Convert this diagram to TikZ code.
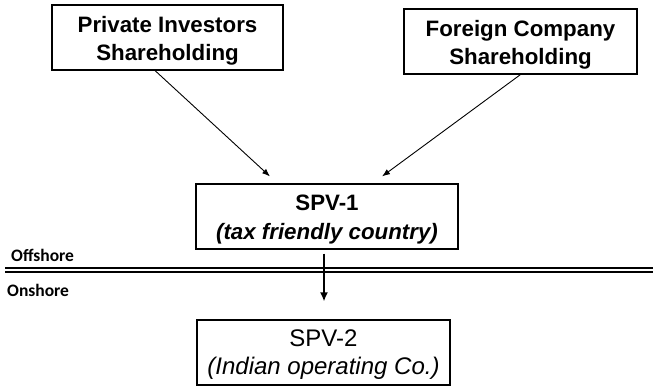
\documentclass[tikz,border=0pt]{standalone}
\usepackage{fontspec}
\setmainfont{Liberation Sans}
\newfontfamily\calib{Carlito}
\usetikzlibrary{arrows.meta}
\begin{document}
\begin{tikzpicture}[x=1pt,y=-1pt,
  frame/.style={draw=black,line width=1.1pt,rectangle,inner sep=0pt,minimum height=65pt},
  btxt/.style={inner sep=0pt,align=center,font=\fontsize{22.3}{28.5}\selectfont\bfseries},
  rtxt/.style={inner sep=0pt,align=center,font=\fontsize{24}{28.5}\selectfont},
  arr/.style={line width=0.9pt,-{Latex[length=8pt,width=6pt]}},
  thickarr/.style={line width=2pt,-{Latex[length=9pt,width=8pt]}},
  side/.style={anchor=west,inner sep=0pt,font=\calib\fontsize{17.5}{20}\selectfont\bfseries}]
\useasboundingbox (0,0) rectangle (653,386);
\node[frame,minimum width=231pt] (A) at (167.5,37.5) {};
\node[btxt] (At) at ([yshift=-3.5pt]A.center) {Private Investors\\Shareholding};
\node[frame,minimum width=233pt] (B) at (520.5,41.5) {};
\node[btxt] (Bt) at ([yshift=-3.5pt]B.center) {Foreign Company\\Shareholding};
\node[frame,minimum width=262pt] (S1) at (327,216.5) {};
\node[btxt] (S1t) at ([yshift=-3pt]S1.center) {SPV-1\\\textit{(tax friendly country)}};
\node[frame,minimum width=253pt] (S2) at (323.5,352.5) {};
\node[rtxt] (S2t) at ([yshift=-2pt]S2.center) {SPV-2\\\textit{(Indian operating Co.)}};
\node[side] (off) at (11,255) {Offshore};
\node[side] (on) at (7,290) {Onshore};
\coordinate (L1) at (5,268);
\coordinate (R1) at (653,268);
\coordinate (L2) at (5,272);
\coordinate (R2) at (653,272);
\draw[line width=1.4pt] (L1) -- (R1);
\draw[line width=1.4pt] (L2) -- (R2);
\draw[arr] ([xshift=-12.5pt]A.south) -- ([xshift=-57pt,yshift=7pt]S1.north);
\draw[arr] (B.south) -- ([xshift=55pt,yshift=7pt]S1.north);
\draw[thickarr] ([xshift=-3pt,yshift=-4pt]S1.south) -- ([xshift=0.5pt,yshift=18pt]S2.north);
\end{tikzpicture}
\end{document}
